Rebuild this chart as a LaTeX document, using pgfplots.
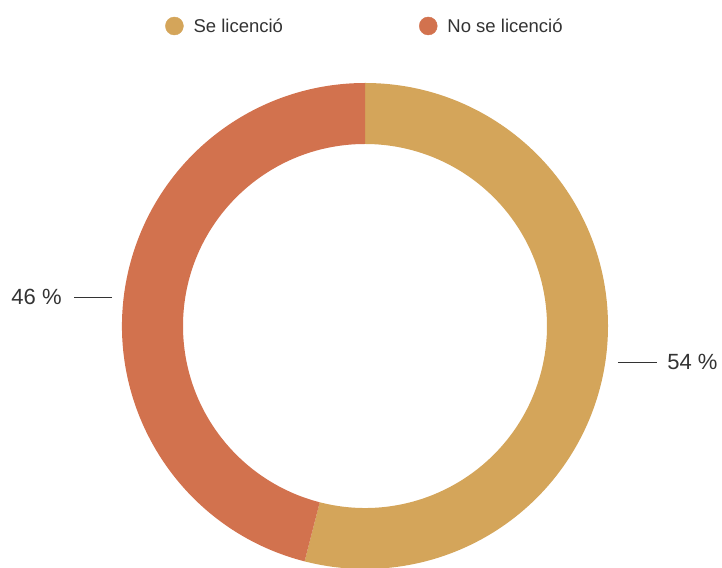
\documentclass[border=0pt]{standalone}
\usepackage{pgfplots}
\pgfplotsset{compat=1.18}
\usepackage{pgfplotstable}
\usepackage{fontspec}
\setmainfont{Liberation Sans}
\usetikzlibrary{calc}
\definecolor{gold}{HTML}{D4A55A}
\definecolor{rust}{HTML}{D2724E}
\definecolor{ink}{HTML}{333333}

\pgfplotstableread{
label value
{Se licenció} 54
{No se licenció} 46
}\shares

\begin{document}
\begin{tikzpicture}
\pgfplotstablegetelem{0}{value}\of\shares \let\va\pgfplotsretval
\pgfplotstablegetelem{1}{value}\of\shares \let\vb\pgfplotsretval
\pgfmathsetmacro{\aStart}{90}
\pgfmathsetmacro{\aMid}{90-3.6*\va/(\va+\vb)*100/2}
\pgfmathsetmacro{\aEnd}{90-3.6*\va/(\va+\vb)*100}
\pgfmathsetmacro{\bMid}{\aEnd-3.6*\vb/(\va+\vb)*100/2}
\pgfmathsetmacro{\bEnd}{\aEnd-3.6*\vb/(\va+\vb)*100}
\begin{axis}[width=722pt,height=567pt,scale only axis,
  xmin=0,xmax=722,ymin=0,ymax=567,hide axis,clip=true,
  legend columns=2,
  legend style={at={(axis cs:162,541)},anchor=west,draw=none,fill=none,
    font=\fontsize{18.5}{22}\selectfont,text=ink,
    /tikz/every even column/.append style={column sep=134pt}},
  legend image code/.code={\fill[#1] (0pt,0pt) circle (9pt); \path (17pt,0pt);}]
\addlegendimage{gold}
\addlegendentry{Se licenció}
\addlegendimage{rust}
\addlegendentry{No se licenció}
% keep the full frame as the picture's extent
\path (axis cs:0,0) rectangle (axis cs:722,567);
% donut ring, centre (365,241), radii 243 / 182
\coordinate (c) at (axis cs:365,241);
\fill[gold] ($(c)+(\aStart:243pt)$) arc[start angle=\aStart,end angle=\aEnd,radius=243pt]
  -- ($(c)+(\aEnd:182pt)$) arc[start angle=\aEnd,end angle=\aStart,radius=182pt] -- cycle;
\fill[rust] ($(c)+(\aEnd:243pt)$) arc[start angle=\aEnd,end angle=\bEnd,radius=243pt]
  -- ($(c)+(\bEnd:182pt)$) arc[start angle=\bEnd,end angle=\aEnd,radius=182pt] -- cycle;
% labels
\draw[ink,line width=0.8pt] ($(c)+(\aMid:255pt)+(0pt,-4pt)$) -- ++(39pt,0pt)
  node[anchor=west,inner sep=0pt,xshift=10pt,font=\fontsize{22}{26}\selectfont,text=ink] {\va\ \%};
\draw[ink,line width=0.8pt] ($(c)+(\bMid:255pt)+(0pt,-3pt)$) -- ++(-38pt,0pt)
  node[anchor=east,inner sep=0pt,xshift=-12pt,font=\fontsize{22}{26}\selectfont,text=ink] {\vb\ \%};
\end{axis}
\end{tikzpicture}
\end{document}
